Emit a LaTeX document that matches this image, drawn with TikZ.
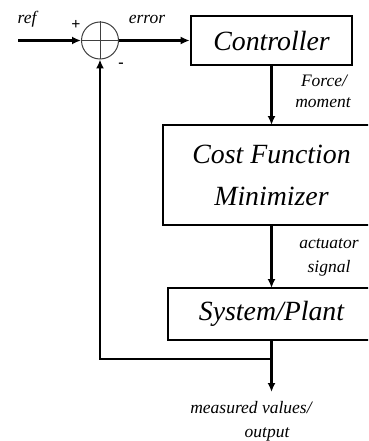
\documentclass[tikz,border=0pt]{standalone}
\usepackage{fontspec}
\setmainfont{Liberation Serif}
\usetikzlibrary{arrows.meta}
\begin{document}
\begin{tikzpicture}[x=1pt,y=-1pt,
  blk/.style={draw,line width=2.6pt,inner sep=0pt,align=center,
    font=\fontsize{27.8}{42}\selectfont\itshape},
  lbl/.style={font=\fontsize{17.5}{20}\selectfont\itshape,inner sep=0pt,anchor=base},
  sgn/.style={font=\fontsize{16}{18}\selectfont\bfseries,inner sep=0pt},
  sig/.style={line width=2.4pt,-{Latex[length=9pt,width=8pt]}},
  wire/.style={line width=2.4pt}]
\useasboundingbox (0,0) rectangle (368,441);
\clip (0,0) rectangle (368,441);
% blocks
\node[blk,minimum width=161pt,minimum height=49pt] (ctrl) at (271.5,40.5) {Controller};
\node[blk,minimum width=217pt,minimum height=100pt] (cost) at (271.5,175) {Cost Function\\Minimizer};
\node[blk,minimum width=207pt,minimum height=52pt] (plant) at (271.5,314) {System/Plant};
% summing junction
\node[draw=black!75,circle,line width=1pt,minimum size=37pt,inner sep=0pt] (sum) at (100,40.5) {};
\draw[black!75,line width=0.9pt] (sum.north) -- (sum.south) (sum.west) -- (sum.east);
% coordinates
\coordinate (in) at (18,40.5);
\coordinate (ctrlbot) at (271.5,65);
\coordinate (costtop) at (271.5,125);
\coordinate (costbot) at (271.5,225);
\coordinate (planttop) at (271.5,288);
\coordinate (plantbot) at (271.5,340);
\coordinate (junc) at (271.5,359);
\coordinate (fbc) at (100,359);
\coordinate (out) at (271.5,392);
% connectors
\draw[sig] (in) -- (sum.west);
\draw[sig] (sum.east) -- (ctrl.west);
\draw[sig] (ctrlbot) -- (costtop);
\draw[sig] (costbot) -- (planttop);
\draw[wire] (plantbot) -- (junc);
\draw[sig] (junc) -- (out);
\draw[sig] (junc) -- (fbc) -- (sum.south);
% labels
\node[lbl] (lref) at (27,24) {ref};
\node[lbl] (lerr) at (147,24) {error};
\node[sgn] (lplus) at (76,25) {+};
\node[sgn] (lminus) at (121,65) {-};
\node[lbl] (lforce) at (324,87) {Force/};
\node[lbl] (lmom) at (323,107) {moment};
\node[lbl] (lact) at (329,248) {actuator};
\node[lbl] (lsig) at (329,272) {signal};
\node[lbl] (lmeas) at (251,413) {measured values/};
\node[lbl] (lout) at (267,437) {output};
\end{tikzpicture}
\end{document}
